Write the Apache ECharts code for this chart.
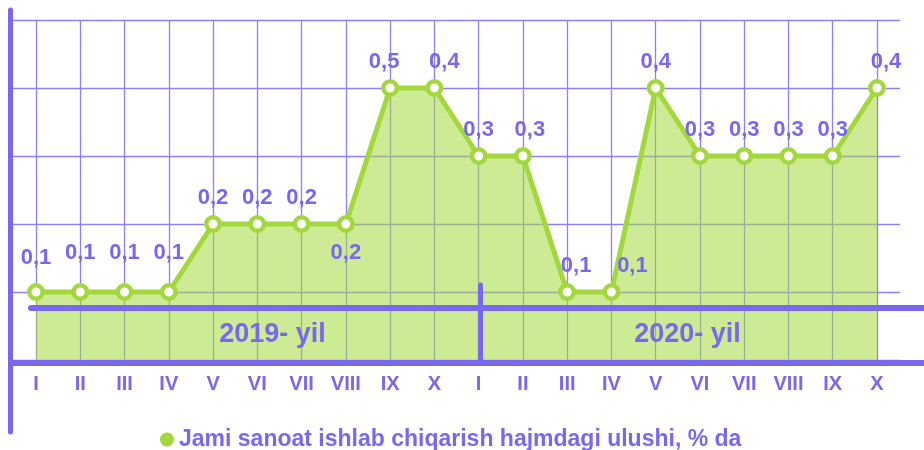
<!DOCTYPE html>
<html>
<head>
<meta charset="utf-8">
<script src="https://cdn.jsdelivr.net/npm/echarts@6.0.0/dist/echarts.min.js"></script>
<style>
  html, body { margin: 0; padding: 0; background: #fff; }
  #chart { width: 924px; height: 450px; }
</style>
</head>
<body>
<div id="chart"></div>
<script>
const months = ['I', 'II', 'III', 'IV', 'V', 'VI', 'VII', 'VIII', 'IX', 'X',
                'I', 'II', 'III', 'IV', 'V', 'VI', 'VII', 'VIII', 'IX', 'X']
// height of each point as drawn in the picture
const shareValues = [0.1, 0.1, 0.1, 0.1, 0.2, 0.2, 0.2, 0.2, 0.4, 0.4,
                     0.3, 0.3, 0.1, 0.1, 0.4, 0.3, 0.3, 0.3, 0.3, 0.4]
// text printed next to each point
const shareLabels = ['0,1', '0,1', '0,1', '0,1', '0,2', '0,2', '0,2', '0,2', '0,5', '0,4',
                     '0,3', '0,3', '0,1', '0,1', '0,4', '0,3', '0,3', '0,3', '0,3', '0,4']
const years = ['2019- yil', '2020- yil']
const seriesName = 'Jami sanoat ishlab chiqarish hajmdagi ulushi, % da'
const yMin = 0
const yMax = 0.5
const yStep = 0.1

const purple = '#7a67f0'
const gridPurple = '#8e80f8'
const green = '#a3d83c'
const font = 'Liberation Sans'

// nudges so the value labels sit like in the original
const labelTweaks = {
  0: { distance: 14 },
  1: { distance: 19 },
  2: { distance: 19 },
  3: { distance: 19 },
  7: { position: 'bottom', distance: 9 },
  8: { offset: [-6, 0] },
  9: { offset: [10, 0] },
  11: { offset: [7, 0] },
  12: { offset: [9, 0] },
  13: { offset: [21, 0] },
  19: { offset: [9, 0] }
}

const chart = echarts.init(document.getElementById('chart'))

function thickLine(width) {
  return { show: true, lineStyle: { color: purple, width: width } }
}
const off = { show: false }

chart.setOption({
  animation: false,
  legend: {
    left: 160,
    top: 428,
    padding: 0,
    icon: 'circle',
    itemWidth: 14,
    itemHeight: 14,
    itemGap: 6,
    data: [{ name: seriesName, itemStyle: { color: green, borderWidth: 0 } }],
    textStyle: { color: purple, fontSize: 23, fontWeight: 'bold', fontFamily: font }
  },
  grid: [
    { left: 36, right: 47, top: 20, bottom: 90 }, // plot
    { left: 13, right: 24, top: 20, bottom: 90 }, // horizontal rules
    { left: 10.5, width: 50, top: 10, bottom: 18 }, // tall y axis line
    { left: 13, right: 0, top: 300, bottom: 87 }, // x axis line
    { left: 31, right: 0, top: 250, bottom: 142 }, // year band line
    { left: 480, right: 0, top: 285, bottom: 87 }, // year divider
    { left: 65, right: 29, top: 300, bottom: 132 } // year names
  ],
  xAxis: [
    {
      gridIndex: 0,
      type: 'category',
      data: months,
      boundaryGap: false,
      axisLine: off,
      axisTick: off,
      axisLabel: {
        interval: 0,
        margin: 14,
        color: purple,
        fontSize: 20,
        fontWeight: 'bold',
        fontFamily: font
      },
      splitLine: { show: true, interval: 0, lineStyle: { color: gridPurple, width: 1.3 } }
    },
    { gridIndex: 1, type: 'value', show: false },
    { gridIndex: 2, type: 'value', show: false },
    { gridIndex: 3, type: 'value', z: 10, axisLine: thickLine(6), axisTick: off, axisLabel: off, splitLine: off },
    { gridIndex: 4, type: 'value', z: 10, axisLine: thickLine(6), axisTick: off, axisLabel: off, splitLine: off },
    { gridIndex: 5, type: 'value', show: false },
    {
      gridIndex: 6,
      type: 'category',
      data: years,
      z: 10,
      axisLine: off,
      axisTick: off,
      axisLabel: { margin: 3, color: purple, fontSize: 27, fontWeight: 'bold', fontFamily: font },
      splitLine: off
    }
  ],
  yAxis: [
    { gridIndex: 0, type: 'value', min: yMin, max: yMax, interval: yStep, show: false },
    {
      gridIndex: 1,
      type: 'value',
      min: yMin,
      max: yMax,
      interval: yStep,
      axisLine: off,
      axisTick: off,
      axisLabel: off,
      splitLine: { show: true, lineStyle: { color: gridPurple, width: 1.3 } }
    },
    { gridIndex: 2, type: 'value', z: 10, axisLine: thickLine(5), axisTick: off, axisLabel: off, splitLine: off },
    { gridIndex: 3, type: 'value', show: false },
    { gridIndex: 4, type: 'value', show: false },
    { gridIndex: 5, type: 'value', z: 10, axisLine: thickLine(5), axisTick: off, axisLabel: off, splitLine: off },
    { gridIndex: 6, type: 'value', show: false }
  ],
  series: [{
    name: seriesName,
    type: 'line',
    xAxisIndex: 0,
    yAxisIndex: 0,
    z: 3,
    data: shareValues.map(function (v, i) {
      const item = { value: v }
      if (labelTweaks[i]) item.label = labelTweaks[i]
      return item
    }),
    symbol: 'circle',
    symbolSize: 13.5,
    lineStyle: { color: green, width: 5 },
    itemStyle: { color: '#fff', borderColor: green, borderWidth: 4.5 },
    areaStyle: { color: 'rgba(164, 217, 60, 0.55)', opacity: 1 },
    label: {
      show: true,
      position: 'top',
      distance: 6,
      color: purple,
      fontSize: 22,
      fontWeight: 'bold',
      fontFamily: font,
      formatter: function (p) { return shareLabels[p.dataIndex] }
    }
  }]
})
</script>
</body>
</html>
